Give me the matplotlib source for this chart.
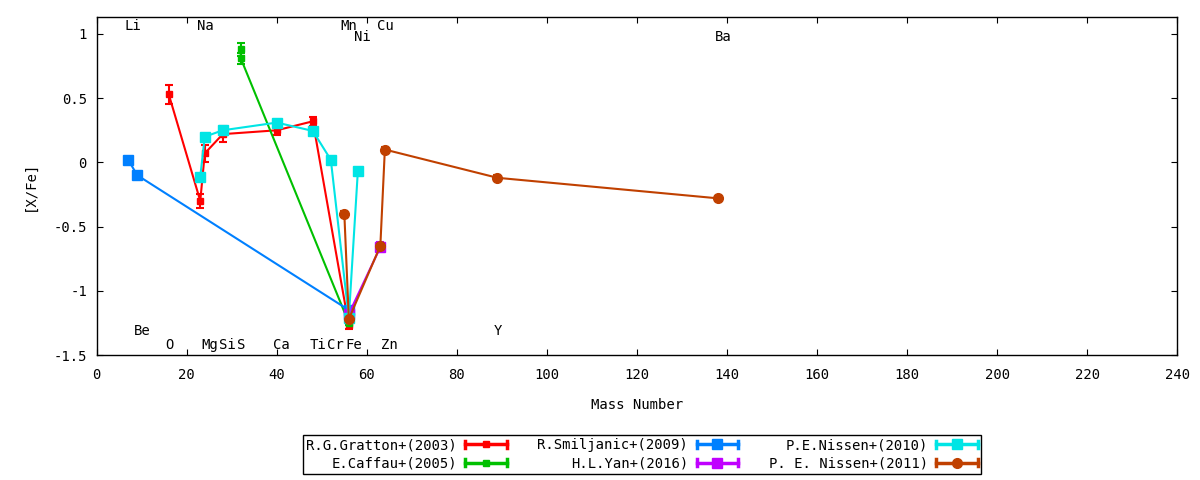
import matplotlib
matplotlib.use("Agg")
import matplotlib.pyplot as plt
from matplotlib.legend_handler import HandlerBase
from matplotlib.lines import Line2D
from matplotlib.ticker import FuncFormatter

# element labels drawn inside the plot
elements = ["Li", "Na", "Mn", "Cu", "Ni", "Ba", "Be", "Y",
            "O", "Mg", "Si", "S", "Ca", "Ti", "Cr", "Fe", "Zn"]
element_mass = [7, 23, 55, 63, 58, 138, 9, 89,
                16, 24, 28, 32, 40, 48, 52, 56, 64]
element_y = [1.06, 1.06, 1.06, 1.06, 0.98, 0.98, -1.31, -1.31,
             -1.42, -1.42, -1.42, -1.42, -1.42, -1.42, -1.42, -1.42, -1.42]

# [X/Fe] by mass number, one set of lists per paper
gratton_x = [16, 23, 24, 28, 40, 48, 56]
gratton_y = [0.53, -0.30, 0.07, 0.22, 0.25, 0.32, -1.27]
gratton_err = [0.075, 0.055, 0.065, 0.06, 0.04, 0.035, 0.03]

caffau_x = [32, 32, 56]
caffau_y = [0.88, 0.81, -1.25]
caffau_err = [0.05, 0.04, 0.02]

smiljanic_x = [7, 9, 56]
smiljanic_y = [0.02, -0.10, -1.15]
smiljanic_err = [0.02, 0.02, 0.02]

yan_x = [56, 63]
yan_y = [-1.18, -0.66]
yan_err = [0.02, 0.04]

nissen10_x = [23, 24, 28, 40, 48, 52, 56, 58]
nissen10_y = [-0.11, 0.20, 0.25, 0.31, 0.245, 0.02, -1.21, -0.07]
nissen10_err = [0.02, 0.02, 0.02, 0.02, 0.02, 0.02, 0.02, 0.02]

nissen11_x = [55, 56, 63, 64, 89, 138]
nissen11_y = [-0.40, -1.22, -0.65, 0.10, -0.12, -0.28]
nissen11_err = [0.02, 0.02, 0.02, 0.02, 0.02, 0.02]


class GnuplotKey(HandlerBase):
    # gnuplot style key sample: horizontal bar with end caps and the point in the middle
    def create_artists(self, legend, orig_handle, xdescent, ydescent,
                       width, height, fontsize, trans):
        c = orig_handle.get_color()
        lw = orig_handle.get_linewidth()
        y = height / 2 - ydescent
        x0 = -xdescent
        x1 = x0 + width
        h = height * 0.35
        arts = [
            Line2D([x0, x1], [y, y], color=c, lw=lw + 1),
            Line2D([x0, x0], [y - h, y + h], color=c, lw=lw + 1),
            Line2D([x1, x1], [y - h, y + h], color=c, lw=lw + 1),
            Line2D([(x0 + x1) / 2], [y], marker=orig_handle.get_marker(),
                   ms=orig_handle.get_markersize(), color=c, ls="none"),
        ]
        for a in arts:
            a.set_transform(trans)
        return arts


plt.rcParams["font.family"] = ["DejaVu Sans Mono"]
plt.rcParams["font.size"] = 10
plt.rcParams["axes.unicode_minus"] = False

fig = plt.figure(figsize=(12, 4.8), dpi=100)
ax = fig.add_axes([0.0806, 0.2604, 0.9004, 0.7036])

series = [
    ("R.G.Gratton+(2003)", gratton_x, gratton_y, gratton_err, "#ff0000", "s", 4),
    ("E.Caffau+(2005)", caffau_x, caffau_y, caffau_err, "#00c000", "s", 4),
    ("R.Smiljanic+(2009)", smiljanic_x, smiljanic_y, smiljanic_err, "#0080ff", "s", 7),
    ("H.L.Yan+(2016)", yan_x, yan_y, yan_err, "#c000ff", "s", 7),
    ("P.E.Nissen+(2010)", nissen10_x, nissen10_y, nissen10_err, "#00e5e5", "s", 7),
    ("P. E. Nissen+(2011)", nissen11_x, nissen11_y, nissen11_err, "#c04000", "o", 7),
]

handles = []
for label, xs, ys, es, col, mk, ms in series:
    ax.errorbar(xs, ys, yerr=es, color=col, lw=1.5, marker=mk, ms=ms,
                capsize=3, capthick=1.5, elinewidth=1.5)
    handles.append(Line2D([], [], color=col, lw=1.5, marker=mk, ms=ms, label=label))

for name, m, yy in zip(elements, element_mass, element_y):
    ax.text(m - 0.8, yy, name, ha="left", va="center", fontsize=10)

ax.set_xlim(0, 240)
ax.set_ylim(-1.5, 1.13)
ax.set_xticks(range(0, 241, 20))
ax.set_yticks([-1.5, -1, -0.5, 0, 0.5, 1])
ax.yaxis.set_major_formatter(FuncFormatter(lambda v, p: f"{v:g}"))
ax.tick_params(direction="in", length=4, top=True, right=True, labelsize=10)
ax.tick_params(axis="x", pad=9)
ax.tick_params(axis="y", pad=7)
for s in ax.spines.values():
    s.set_linewidth(1)

ax.set_xlabel("Mass Number", fontsize=10, labelpad=12)
ax.set_ylabel("[X/Fe]", fontsize=10, labelpad=12)

leg = fig.legend(handles=handles, loc="upper center", bbox_to_anchor=(0.535, 0.094),
                 ncol=3, markerfirst=False, frameon=True, fancybox=False,
                 edgecolor="black", framealpha=1, handlelength=3.0,
                 handler_map={Line2D: GnuplotKey()}, fontsize=10,
                 columnspacing=2.2, handletextpad=0.6, borderpad=0.25,
                 labelspacing=0.3, borderaxespad=0)
leg.get_frame().set_linewidth(1)
for t in leg.get_texts():
    t.set_ha("right")

fig.savefig("out.png", dpi=100)
